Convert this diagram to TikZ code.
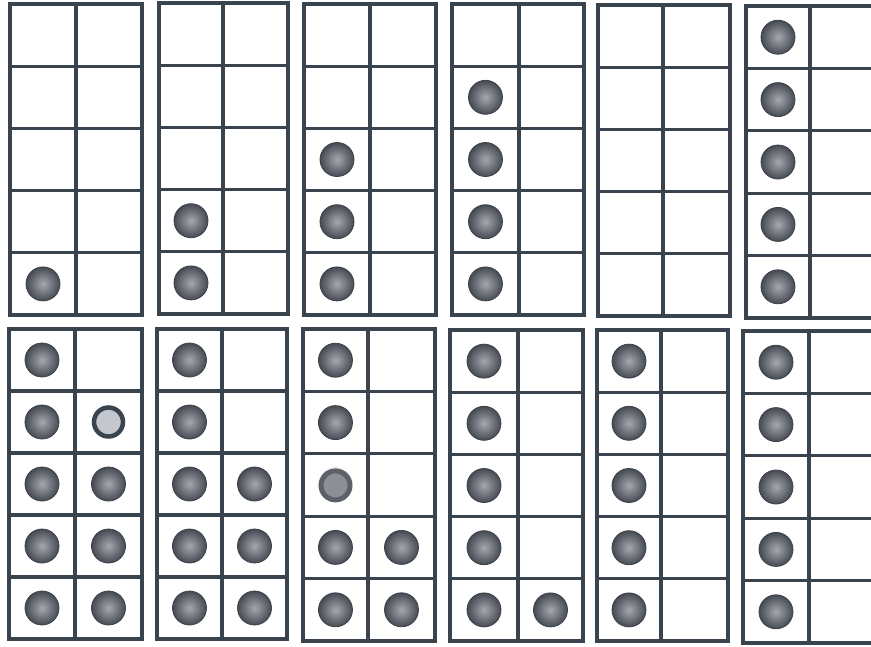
\documentclass[tikz,border=0pt]{standalone}
\usepackage{tikz}
\definecolor{gridc}{RGB}{58,68,78}
\definecolor{dotin}{RGB}{165,168,175}
\definecolor{dotout}{RGB}{70,74,82}
\definecolor{dotedge}{RGB}{60,64,72}
\definecolor{ringin}{RGB}{196,200,206}
\tikzset{
  gridline/.style={draw=gridc,line width=3.1pt,line cap=rect},
  counter/.style={inner color=dotin,outer color=dotout,draw=dotedge,line width=0.8pt},
}
% #1 left, #2 middle, #3 right, #4 top, #5 bottom, #6 dots in left column, #7 dots in right column
\newcommand{\tfrm}[7]{%
  \foreach \k in {1,...,4}{
    \draw[gridline] (#1,{-(#4+\k*(#5-#4)/5)}) -- (#3,{-(#4+\k*(#5-#4)/5)});
  }
  \draw[gridline] (#2,-#4) -- (#2,-#5);
  \draw[gridline] (#1,-#4) rectangle (#3,-#5);
  \ifnum#6>0
    \foreach \k in {1,...,#6}{
      \shade[counter] ({(#1+#2)/2},{-(#5-(\k-0.5)*(#5-#4)/5)}) circle (17pt);
    }
  \fi
  \ifnum#7>0
    \foreach \k in {1,...,#7}{
      \shade[counter] ({(#2+#3)/2},{-(#5-(\k-0.5)*(#5-#4)/5)}) circle (17pt);
    }
  \fi
}
\begin{document}
\begin{tikzpicture}[x=1pt,y=1pt]
\useasboundingbox (0,0) rectangle (871,-646);
\clip (0,0) rectangle (871,-646);
\fill[white] (0,0) rectangle (871,-646);
% top row
\tfrm{10}{76}{142}{4}{315}{1}{0}
\tfrm{159}{223}{288}{3}{314}{2}{0}
\tfrm{304}{370}{436}{4}{315}{3}{0}
\tfrm{452}{519}{584}{4}{315}{4}{0}
\tfrm{598}{663}{730}{5}{316}{0}{0}
\tfrm{746}{810}{876}{6}{318}{5}{0}
% bottom row
\tfrm{9}{75}{142}{329}{639}{5}{4}
\tfrm{157}{222}{287}{329}{639}{5}{3}
\tfrm{303}{368}{435}{329}{641}{5}{2}
\tfrm{450}{518}{583}{330}{641}{5}{1}
\tfrm{597}{661}{728}{330}{641}{5}{0}
\tfrm{743}{809}{876}{331}{643}{5}{0}
% two counters drawn as rings
\fill[white] (108.5,-422) circle (18pt);
\draw[fill=ringin,draw=gridc,line width=4.5pt] (108.5,-422) circle (14.5pt);
\fill[white] (335.5,-485.4) circle (18pt);
\draw[fill={rgb,255:red,140;green,144;blue,150},draw={rgb,255:red,92;green,96;blue,104},line width=5pt] (335.5,-485.4) circle (14.5pt);
\end{tikzpicture}
\end{document}
